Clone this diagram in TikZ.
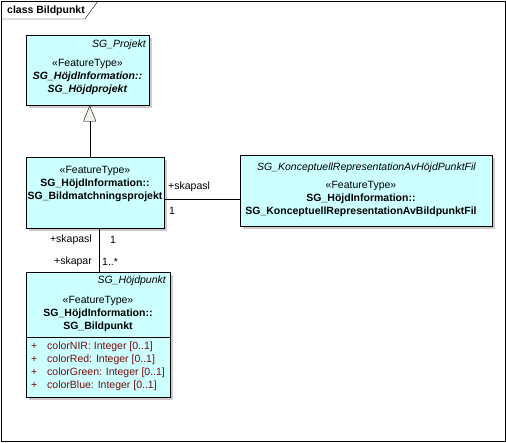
\documentclass[tikz,border=0pt]{standalone}
\usepackage{fontspec}
\setmainfont{Liberation Sans}
\usetikzlibrary{arrows.meta, shadows}
\definecolor{classfill}{RGB}{204,255,255}
\definecolor{attrred}{RGB}{120,10,10}
\definecolor{tipfill}{RGB}{244,242,236}

\begin{document}
\begin{tikzpicture}[x=1pt, y=-1pt, font=\fontsize{10.5}{13}\selectfont,
        cls/.style = {draw, fill=classfill, anchor=north west, inner sep=0pt, drop shadow={shadow xshift=3pt, shadow yshift=-3pt, fill=black!20, opacity=1}},
        stereo/.style = {anchor=north, align=center, inner sep=0pt},
        cname/.style = {anchor=north east, inner sep=0pt, font=\fontsize{10.5}{13}\selectfont\itshape},
        role/.style = {inner sep=0pt}]
                \useasboundingbox (0,0) rectangle (506,442);
                \draw (1,1) rectangle (505,441);
                \draw (1,19) -- (85,19) -- (98,1);
                \node[anchor=west, inner sep=0pt, font=\fontsize{10.5}{13}\selectfont\bfseries] at (7,11) (title) {class Bildpunkt};

                \node[cls, minimum width=123pt, minimum height=70pt] at (26,35) (projekt) {};
                \node[cname] at (146,40) (projektname) {SG\_Projekt};
                \node[stereo] at (87.5,59) (projekttext) {«FeatureType»\\ \textbf{\textit{SG\_HöjdInformation::}}\\ \textbf{\textit{SG\_Höjdprojekt}}};

                \node[cls, minimum width=138pt, minimum height=71pt] at (26,157) (bildmatch) {};
                \node[stereo] at (95,166) (bildmatchtext) {«FeatureType»\\ \textbf{SG\_HöjdInformation::}\\ \textbf{SG\_Bildmatchningsprojekt}};

                \node[cls, minimum width=252pt, minimum height=71pt] at (240,155) (konzept) {};
                \node[cname] at (476,163) (konzeptname) {SG\_KonceptuellRepresentationAvHöjdPunktFil};
                \node[stereo] at (361,181) (konzepttext) {«FeatureType»\\ \textbf{SG\_HöjdInformation::}\\ \textbf{SG\_KonceptuellRepresentationAvBildpunktFil}};

                \node[cls, minimum width=144pt, minimum height=125pt] at (26,272) (hoejd) {};
                \node[cname] at (166,276) (hoejdname) {SG\_Höjdpunkt};
                \node[stereo] at (98,296) (hoejdtext) {«FeatureType»\\ \textbf{SG\_HöjdInformation::}\\ \textbf{SG\_Bildpunkt}};
                \draw (hoejd.west |- 0,337) -- (hoejd.east |- 0,337);
                \node[anchor=north west, align=left, inner sep=0pt, text=attrred] at (31,342) (hoejdattr) {\makebox[16pt][l]{+}colorNIR: Integer [0..1]\\ \makebox[16pt][l]{+}colorRed: Integer [0..1]\\ \makebox[16pt][l]{+}colorGreen: Integer [0..1]\\ \makebox[16pt][l]{+}colorBlue: Integer [0..1]};

                \draw [-{Triangle[open, length=16pt, width=13pt, fill=tipfill]}] ([xshift=-5.5pt]bildmatch.north) -- ([xshift=2pt]projekt.south);

                \coordinate (assocL) at ([yshift=-6.5pt]bildmatch.east);
                \draw (assocL) -- (assocL -| konzept.west);
                \node[role, anchor=west] at (168,187) (assocrole) {+skapasl};
                \node[role, anchor=west] at (169,211) (assocmult) {1};

                \coordinate (compT) at ([xshift=1pt]hoejd.north);
                \draw (compT) -- (compT |- bildmatch.south);
                \node[role, anchor=east] at (92,240) (comprole1) {+skapasl};
                \node[role, anchor=west] at (110,240) (compmult1) {1};
                \node[role, anchor=east] at (92,262) (comprole2) {+skapar};
                \node[role, anchor=west] at (102,262) (compmult2) {1..*};
            \end{tikzpicture}
\end{document}
